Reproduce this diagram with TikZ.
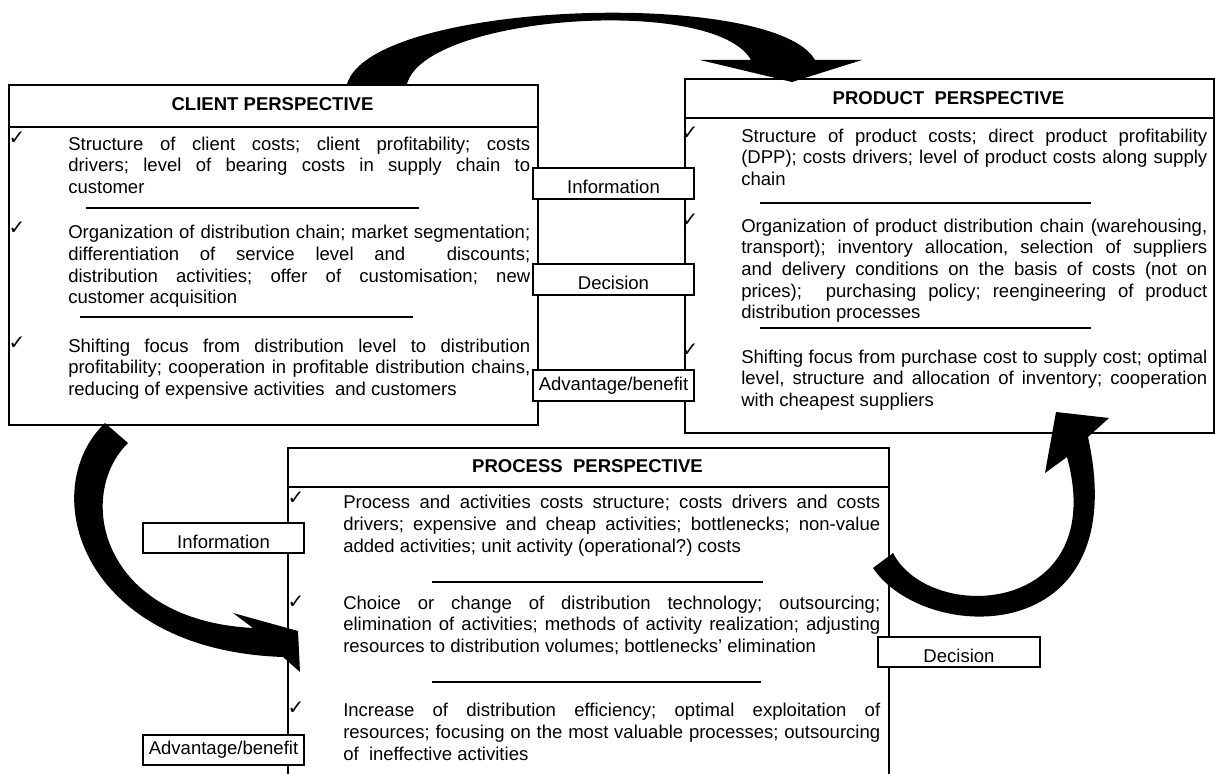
\documentclass[tikz,border=0pt]{standalone}
\usepackage{fontspec}
\setmainfont{Liberation Sans}
\newfontfamily\tickfont{DejaVu Sans}
\newcommand\bodysize{\fontsize{13.9pt}{16.2pt}\selectfont}
\newcommand\jline[1]{\leavevmode\hbox to \hsize{\frenchspacing\spaceskip=0pt\xspaceskip=0pt\strut #1}\\}
\newcommand\lline[1]{\leavevmode\hbox{\frenchspacing\spaceskip=0pt\xspaceskip=0pt #1}}

\tikzset{
  perspbox/.style={draw, line width=1.5pt, inner sep=0pt, anchor=north west},
  headline/.style={line width=1.5pt},
  headtitle/.style={font=\bodysize\bfseries, inner sep=0pt},
  paratext/.style={anchor=north west, inner sep=0pt, align=left, font=\bodysize},
  tickmark/.style={font=\tickfont\fontsize{15pt}{18pt}\selectfont, inner sep=0pt},
  sepline/.style={line width=1.2pt},
  labelbox/.style={draw, line width=1.3pt, fill=white, inner sep=0pt, font=\bodysize,
    minimum width=120.75pt, minimum height=23.25pt, text height=15.5pt, text depth=0pt},
  labeladv/.style={labelbox, text height=11pt, text depth=4pt},
  blockarrow/.style={fill=black}
}

\begin{document}
\begin{tikzpicture}[x=0.75pt, y=-0.75pt]
\useasboundingbox (0,0) rectangle (1215,774);

\node[perspbox, minimum width=396.75pt, minimum height=255pt] (client) at (8,84) {};
\node[perspbox, minimum width=396.75pt, minimum height=265.5pt] (product) at (684,78) {};
\node[perspbox, minimum width=450.75pt, minimum height=257.25pt] (process) at (287,447) {};

\draw[headline] (8,127) -- (537,127);
\draw[headline] (684,118) -- (1213,118);
\draw[headline] (287,487) -- (888,487);

\node[headtitle] (clienttitle) at (272.5,104) {CLIENT PERSPECTIVE};
\node[headtitle] (producttitle) at (948.5,98.5) {PRODUCT\ \ PERSPECTIVE};
\node[headtitle] (processtitle) at (587.5,466.5) {PROCESS\ \ PERSPECTIVE};

\node[tickmark] (ct1) at (17,138) {✓};
\node[tickmark] (ct2) at (17,228) {✓};
\node[tickmark] (ct3) at (17,343) {✓};
\node[tickmark] (pt1) at (690,133) {✓};
\node[tickmark] (pt2) at (690,220) {✓};
\node[tickmark] (pt3) at (690,350) {✓};
\node[tickmark] (rt1) at (296,498) {✓};
\node[tickmark] (rt2) at (296,602) {✓};
\node[tickmark] (rt3) at (296,708) {✓};

\node[paratext, text width=346.5pt] (c1) at (68,135) {\jline{Structure of client costs; client profitability; costs}\jline{drivers; level of bearing costs in supply chain to}\lline{customer}};
\node[paratext, text width=346.5pt] (c2) at (68,223.5) {\jline{Organization of distribution chain; market segmentation;}\jline{differentiation of service level and\ \ discounts;}\jline{distribution activities; offer of customisation; new}\lline{customer acquisition}};
\node[paratext, text width=346.5pt] (c3) at (68,337) {\jline{Shifting focus from distribution level to distribution}\jline{profitability; cooperation in profitable distribution chains,}\lline{reducing of expensive activities\ \ and customers}};

\node[paratext, text width=349.5pt] (p1) at (741,127) {\jline{Structure of product costs; direct product profitability}\jline{(DPP); costs drivers; level of product costs along supply}\lline{chain}};
\node[paratext, text width=349.5pt] (p2) at (741,217) {\jline{Organization of product distribution chain (warehousing,}\jline{transport); inventory allocation, selection of suppliers}\jline{and delivery conditions on the basis of costs (not on}\jline{prices);\ \ purchasing policy; reengineering of product}\lline{distribution processes}};
\node[paratext, text width=349.5pt] (p3) at (741,348) {\jline{Shifting focus from purchase cost to supply cost; optimal}\jline{level, structure and allocation of inventory; cooperation}\lline{with cheapest suppliers}};

\node[paratext, text width=402.75pt] (r1) at (343,493.5) {\jline{Process and activities costs structure; costs drivers and costs}\jline{drivers; expensive and cheap activities; bottlenecks; non-value}\lline{added activities; unit activity (operational?) costs}};
\node[paratext, text width=402.75pt] (r2) at (343,594) {\jline{Choice or change of distribution technology; outsourcing;}\jline{elimination of activities; methods of activity realization; adjusting}\lline{resources to distribution volumes; bottlenecks’ elimination}};
\node[paratext, text width=402.75pt] (r3) at (343,701.5) {\jline{Increase of distribution efficiency; optimal exploitation of}\jline{resources; focusing on the most valuable processes; outsourcing}\lline{of\ \ ineffective activities}};

\draw[sepline] (86,208) -- (419,208);
\draw[sepline] (80,317) -- (413,317);
\draw[sepline] (760,203) -- (1091,203);
\draw[sepline] (760,328) -- (1091,328);
\draw[sepline] (432,582) -- (763,582);
\draw[sepline] (432,682) -- (761,682);

\node[labelbox] (cinfo) at (613.5,183.5) {Information};
\node[labelbox] (cdec) at (613.5,279.5) {Decision};
\node[labeladv] (cadv) at (613.5,385.5) {Advantage/benefit};
\node[labelbox, minimum height=22.5pt] (rinfo) at (223.5,538) {Information};
\node[labeladv, minimum height=22.5pt] (radv) at (223.5,750) {Advantage/benefit};
\node[labelbox, minimum width=121.5pt, minimum height=22.5pt] (rdec) at (959,652) {Decision};

\fill[blockarrow] (347,84) .. controls (372,0) and (775,-12) .. (815,60) -- (862,60) -- (792,82) -- (700,60) -- (751,60) .. controls (715,-5) and (425,15) .. (407,84) -- cycle;
\fill[blockarrow] (128,443) -- (105,423) .. controls (35,490) and (80,650) .. (283,657) -- (300,672) -- (298,631) -- (233,613) -- (253,628) .. controls (100,620) and (75,495) .. (128,443) -- cycle;
\fill[blockarrow] (893,553) -- (873,568) .. controls (925,645) and (1135,650) .. (1088,437) -- (1109,418) -- (1056,412) -- (1045,473) -- (1067,457) .. controls (1110,615) and (930,625) .. (893,553) -- cycle;
\end{tikzpicture}
\end{document}
